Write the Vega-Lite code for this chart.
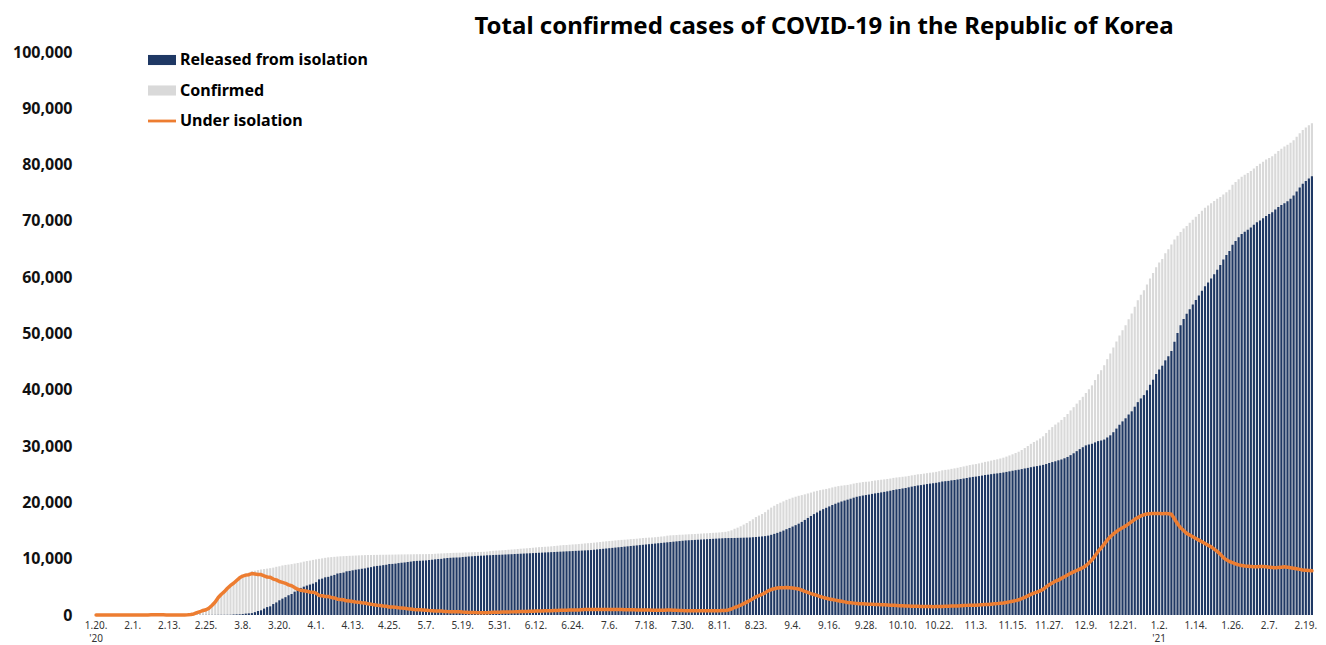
{
"$schema":"https://vega.github.io/schema/vega-lite/v6.json",
"width":1218,"height":563,
"autosize":{"type":"none"},
"padding":{"left":95,"top":52,"right":13,"bottom":30},
"background":"white",
"config":{"view":{"stroke":null},"font":"Noto Sans"},
"title":{"text":"Total confirmed cases of COVID-19 in the Republic of Korea","font":"Noto Sans","fontSize":24,"fontWeight":"bold","color":"#000000","anchor":"middle","dx":120,"offset":5},
"data":{"values":[
{"d":"2020-01-20","c":1,"r":0,"u":1},{"d":"2020-01-21","c":1,"r":0,"u":1},{"d":"2020-01-22","c":1,"r":0,"u":1},{"d":"2020-01-23","c":1,"r":0,"u":1},{"d":"2020-01-24","c":2,"r":0,"u":2},{"d":"2020-01-25","c":2,"r":0,"u":2},{"d":"2020-01-26","c":3,"r":0,"u":3},{"d":"2020-01-27","c":4,"r":0,"u":4},{"d":"2020-01-28","c":4,"r":0,"u":4},{"d":"2020-01-29","c":4,"r":0,"u":4},{"d":"2020-01-30","c":6,"r":0,"u":6},{"d":"2020-01-31","c":11,"r":0,"u":11},
{"d":"2020-02-01","c":12,"r":0,"u":12},{"d":"2020-02-02","c":15,"r":0,"u":15},{"d":"2020-02-03","c":15,"r":0,"u":15},{"d":"2020-02-04","c":16,"r":0,"u":16},{"d":"2020-02-05","c":19,"r":1,"u":18},{"d":"2020-02-06","c":23,"r":1,"u":22},{"d":"2020-02-07","c":24,"r":1,"u":23},{"d":"2020-02-08","c":24,"r":1,"u":23},{"d":"2020-02-09","c":27,"r":3,"u":24},{"d":"2020-02-10","c":27,"r":3,"u":24},{"d":"2020-02-11","c":28,"r":4,"u":24},{"d":"2020-02-12","c":28,"r":7,"u":21},{"d":"2020-02-13","c":28,"r":7,"u":21},{"d":"2020-02-14","c":28,"r":7,"u":21},{"d":"2020-02-15","c":28,"r":9,"u":19},{"d":"2020-02-16","c":29,"r":9,"u":20},{"d":"2020-02-17","c":30,"r":10,"u":20},{"d":"2020-02-18","c":31,"r":12,"u":19},{"d":"2020-02-19","c":51,"r":12,"u":39},{"d":"2020-02-20","c":104,"r":16,"u":87},{"d":"2020-02-21","c":204,"r":16,"u":186},{"d":"2020-02-22","c":433,"r":16,"u":415},{"d":"2020-02-23","c":602,"r":18,"u":578},{"d":"2020-02-24","c":833,"r":18,"u":807},{"d":"2020-02-25","c":977,"r":22,"u":945},{"d":"2020-02-26","c":1261,"r":22,"u":1227},{"d":"2020-02-27","c":1766,"r":22,"u":1731},{"d":"2020-02-28","c":2337,"r":22,"u":2299},{"d":"2020-02-29","c":3150,"r":27,"u":3106},
{"d":"2020-03-01","c":3736,"r":30,"u":3688},{"d":"2020-03-02","c":4212,"r":31,"u":4153},{"d":"2020-03-03","c":4812,"r":34,"u":4746},{"d":"2020-03-04","c":5328,"r":41,"u":5252},{"d":"2020-03-05","c":5766,"r":88,"u":5636},{"d":"2020-03-06","c":6284,"r":108,"u":6132},{"d":"2020-03-07","c":6767,"r":118,"u":6599},{"d":"2020-03-08","c":7134,"r":166,"u":6917},{"d":"2020-03-09","c":7382,"r":247,"u":7081},{"d":"2020-03-10","c":7513,"r":288,"u":7165},{"d":"2020-03-11","c":7755,"r":333,"u":7356},{"d":"2020-03-12","c":7869,"r":510,"u":7293},{"d":"2020-03-13","c":7979,"r":714,"u":7193},{"d":"2020-03-14","c":8086,"r":834,"u":7177},{"d":"2020-03-15","c":8162,"r":1137,"u":6950},{"d":"2020-03-16","c":8236,"r":1407,"u":6748},{"d":"2020-03-17","c":8320,"r":1540,"u":6696},{"d":"2020-03-18","c":8413,"r":1947,"u":6375},{"d":"2020-03-19","c":8565,"r":2233,"u":6241},{"d":"2020-03-20","c":8652,"r":2612,"u":5946},{"d":"2020-03-21","c":8799,"r":2909,"u":5788},{"d":"2020-03-22","c":8897,"r":3166,"u":5627},{"d":"2020-03-23","c":8961,"r":3507,"u":5343},{"d":"2020-03-24","c":9037,"r":3730,"u":5187},{"d":"2020-03-25","c":9137,"r":4144,"u":4867},{"d":"2020-03-26","c":9241,"r":4528,"u":4582},{"d":"2020-03-27","c":9332,"r":4811,"u":4382},{"d":"2020-03-28","c":9478,"r":5033,"u":4301},{"d":"2020-03-29","c":9583,"r":5228,"u":4203},{"d":"2020-03-30","c":9661,"r":5408,"u":4095},{"d":"2020-03-31","c":9786,"r":5567,"u":4057},
{"d":"2020-04-01","c":9887,"r":5828,"u":3894},{"d":"2020-04-02","c":9976,"r":6325,"u":3482},{"d":"2020-04-03","c":10062,"r":6463,"u":3425},{"d":"2020-04-04","c":10156,"r":6694,"u":3285},{"d":"2020-04-05","c":10237,"r":6776,"u":3278},{"d":"2020-04-06","c":10284,"r":6973,"u":3125},{"d":"2020-04-07","c":10331,"r":7117,"u":3022},{"d":"2020-04-08","c":10384,"r":7368,"u":2816},{"d":"2020-04-09","c":10423,"r":7447,"u":2772},{"d":"2020-04-10","c":10450,"r":7534,"u":2708},{"d":"2020-04-11","c":10480,"r":7757,"u":2512},{"d":"2020-04-12","c":10512,"r":7829,"u":2469},{"d":"2020-04-13","c":10537,"r":7937,"u":2383},{"d":"2020-04-14","c":10564,"r":8042,"u":2300},{"d":"2020-04-15","c":10591,"r":8114,"u":2252},{"d":"2020-04-16","c":10613,"r":8213,"u":2171},{"d":"2020-04-17","c":10635,"r":8277,"u":2128},{"d":"2020-04-18","c":10653,"r":8411,"u":2010},{"d":"2020-04-19","c":10661,"r":8501,"u":1926},{"d":"2020-04-20","c":10674,"r":8635,"u":1803},{"d":"2020-04-21","c":10683,"r":8717,"u":1729},{"d":"2020-04-22","c":10694,"r":8764,"u":1692},{"d":"2020-04-23","c":10702,"r":8854,"u":1608},{"d":"2020-04-24","c":10708,"r":8922,"u":1546},{"d":"2020-04-25","c":10718,"r":9059,"u":1419},{"d":"2020-04-26","c":10728,"r":9072,"u":1414},{"d":"2020-04-27","c":10738,"r":9123,"u":1372},{"d":"2020-04-28","c":10752,"r":9217,"u":1291},{"d":"2020-04-29","c":10761,"r":9283,"u":1232},{"d":"2020-04-30","c":10765,"r":9333,"u":1185},
{"d":"2020-05-01","c":10774,"r":9419,"u":1107},{"d":"2020-05-02","c":10780,"r":9484,"u":1046},{"d":"2020-05-03","c":10793,"r":9568,"u":975},{"d":"2020-05-04","c":10801,"r":9610,"u":939},{"d":"2020-05-05","c":10804,"r":9632,"u":918},{"d":"2020-05-06","c":10806,"r":9664,"u":887},{"d":"2020-05-07","c":10810,"r":9695,"u":859},{"d":"2020-05-08","c":10822,"r":9762,"u":804},{"d":"2020-05-09","c":10840,"r":9821,"u":763},{"d":"2020-05-10","c":10874,"r":9888,"u":730},{"d":"2020-05-11","c":10909,"r":9938,"u":715},{"d":"2020-05-12","c":10936,"r":9970,"u":708},{"d":"2020-05-13","c":10962,"r":10066,"u":637},{"d":"2020-05-14","c":10991,"r":10127,"u":604},{"d":"2020-05-15","c":11018,"r":10162,"u":596},{"d":"2020-05-16","c":11037,"r":10194,"u":581},{"d":"2020-05-17","c":11050,"r":10213,"u":575},{"d":"2020-05-18","c":11065,"r":10226,"u":576},{"d":"2020-05-19","c":11078,"r":10295,"u":520},{"d":"2020-05-20","c":11110,"r":10340,"u":507},{"d":"2020-05-21","c":11122,"r":10400,"u":458},{"d":"2020-05-22","c":11142,"r":10422,"u":456},{"d":"2020-05-23","c":11165,"r":10467,"u":432},{"d":"2020-05-24","c":11190,"r":10506,"u":418},{"d":"2020-05-25","c":11206,"r":10531,"u":408},{"d":"2020-05-26","c":11225,"r":10551,"u":405},{"d":"2020-05-27","c":11265,"r":10611,"u":385},{"d":"2020-05-28","c":11344,"r":10618,"u":457},{"d":"2020-05-29","c":11402,"r":10655,"u":478},{"d":"2020-05-30","c":11441,"r":10677,"u":495},{"d":"2020-05-31","c":11468,"r":10695,"u":503},
{"d":"2020-06-01","c":11503,"r":10718,"u":513},{"d":"2020-06-02","c":11541,"r":10746,"u":523},{"d":"2020-06-03","c":11590,"r":10774,"u":544},{"d":"2020-06-04","c":11629,"r":10802,"u":555},{"d":"2020-06-05","c":11668,"r":10830,"u":565},{"d":"2020-06-06","c":11719,"r":10858,"u":588},{"d":"2020-06-07","c":11776,"r":10886,"u":617},{"d":"2020-06-08","c":11814,"r":10914,"u":627},{"d":"2020-06-09","c":11852,"r":10942,"u":634},{"d":"2020-06-10","c":11902,"r":10970,"u":656},{"d":"2020-06-11","c":11947,"r":10998,"u":673},{"d":"2020-06-12","c":12003,"r":11026,"u":700},{"d":"2020-06-13","c":12051,"r":11054,"u":720},{"d":"2020-06-14","c":12085,"r":11082,"u":726},{"d":"2020-06-15","c":12121,"r":11110,"u":734},{"d":"2020-06-16","c":12155,"r":11138,"u":739},{"d":"2020-06-17","c":12198,"r":11166,"u":753},{"d":"2020-06-18","c":12257,"r":11194,"u":784},{"d":"2020-06-19","c":12306,"r":11222,"u":804},{"d":"2020-06-20","c":12373,"r":11250,"u":843},{"d":"2020-06-21","c":12421,"r":11278,"u":863},{"d":"2020-06-22","c":12438,"r":11306,"u":852},{"d":"2020-06-23","c":12484,"r":11334,"u":869},{"d":"2020-06-24","c":12535,"r":11362,"u":892},{"d":"2020-06-25","c":12563,"r":11390,"u":891},{"d":"2020-06-26","c":12602,"r":11418,"u":902},{"d":"2020-06-27","c":12653,"r":11446,"u":925},{"d":"2020-06-28","c":12715,"r":11474,"u":959},{"d":"2020-06-29","c":12757,"r":11502,"u":973},{"d":"2020-06-30","c":12800,"r":11537,"u":981},
{"d":"2020-07-01","c":12850,"r":11592,"u":975},{"d":"2020-07-02","c":12904,"r":11647,"u":974},{"d":"2020-07-03","c":12967,"r":11702,"u":982},{"d":"2020-07-04","c":13030,"r":11757,"u":989},{"d":"2020-07-05","c":13091,"r":11812,"u":995},{"d":"2020-07-06","c":13137,"r":11867,"u":986},{"d":"2020-07-07","c":13181,"r":11922,"u":974},{"d":"2020-07-08","c":13244,"r":11977,"u":982},{"d":"2020-07-09","c":13293,"r":12032,"u":974},{"d":"2020-07-10","c":13338,"r":12087,"u":964},{"d":"2020-07-11","c":13373,"r":12142,"u":943},{"d":"2020-07-12","c":13417,"r":12197,"u":931},{"d":"2020-07-13","c":13479,"r":12252,"u":938},{"d":"2020-07-14","c":13512,"r":12307,"u":916},{"d":"2020-07-15","c":13551,"r":12362,"u":900},{"d":"2020-07-16","c":13612,"r":12417,"u":902},{"d":"2020-07-17","c":13672,"r":12472,"u":907},{"d":"2020-07-18","c":13711,"r":12527,"u":890},{"d":"2020-07-19","c":13745,"r":12582,"u":868},{"d":"2020-07-20","c":13771,"r":12637,"u":838},{"d":"2020-07-21","c":13816,"r":12692,"u":828},{"d":"2020-07-22","c":13879,"r":12747,"u":836},{"d":"2020-07-23","c":13938,"r":12802,"u":839},{"d":"2020-07-24","c":13979,"r":12857,"u":824},{"d":"2020-07-25","c":14092,"r":12912,"u":882},{"d":"2020-07-26","c":14150,"r":12967,"u":885},{"d":"2020-07-27","c":14175,"r":13022,"u":854},{"d":"2020-07-28","c":14203,"r":13077,"u":827},{"d":"2020-07-29","c":14251,"r":13132,"u":819},{"d":"2020-07-30","c":14269,"r":13187,"u":782},{"d":"2020-07-31","c":14305,"r":13242,"u":762},
{"d":"2020-08-01","c":14336,"r":13274,"u":761},{"d":"2020-08-02","c":14366,"r":13306,"u":759},{"d":"2020-08-03","c":14389,"r":13338,"u":750},{"d":"2020-08-04","c":14423,"r":13370,"u":752},{"d":"2020-08-05","c":14456,"r":13402,"u":752},{"d":"2020-08-06","c":14499,"r":13434,"u":763},{"d":"2020-08-07","c":14519,"r":13466,"u":751},{"d":"2020-08-08","c":14562,"r":13498,"u":760},{"d":"2020-08-09","c":14598,"r":13530,"u":764},{"d":"2020-08-10","c":14626,"r":13562,"u":760},{"d":"2020-08-11","c":14660,"r":13594,"u":761},{"d":"2020-08-12","c":14714,"r":13626,"u":783},{"d":"2020-08-13","c":14770,"r":13658,"u":807},{"d":"2020-08-14","c":14873,"r":13668,"u":900},{"d":"2020-08-15","c":15039,"r":13674,"u":1060},{"d":"2020-08-16","c":15318,"r":13683,"u":1330},{"d":"2020-08-17","c":15515,"r":13700,"u":1510},{"d":"2020-08-18","c":15761,"r":13715,"u":1740},{"d":"2020-08-19","c":16058,"r":13732,"u":2020},{"d":"2020-08-20","c":16346,"r":13749,"u":2290},{"d":"2020-08-21","c":16670,"r":13771,"u":2590},{"d":"2020-08-22","c":17002,"r":13813,"u":2880},{"d":"2020-08-23","c":17399,"r":13850,"u":3240},{"d":"2020-08-24","c":17665,"r":13906,"u":3450},{"d":"2020-08-25","c":17945,"r":13955,"u":3680},{"d":"2020-08-26","c":18265,"r":14013,"u":3940},{"d":"2020-08-27","c":18706,"r":14103,"u":4290},{"d":"2020-08-28","c":19077,"r":14241,"u":4520},{"d":"2020-08-29","c":19400,"r":14409,"u":4670},{"d":"2020-08-30","c":19699,"r":14586,"u":4790},{"d":"2020-08-31","c":19947,"r":14783,"u":4840},
{"d":"2020-09-01","c":20182,"r":14996,"u":4860},{"d":"2020-09-02","c":20449,"r":15240,"u":4880},{"d":"2020-09-03","c":20644,"r":15463,"u":4850},{"d":"2020-09-04","c":20842,"r":15711,"u":4800},{"d":"2020-09-05","c":21010,"r":15956,"u":4720},{"d":"2020-09-06","c":21177,"r":16221,"u":4620},{"d":"2020-09-07","c":21296,"r":16535,"u":4420},{"d":"2020-09-08","c":21432,"r":16888,"u":4200},{"d":"2020-09-09","c":21588,"r":17238,"u":4000},{"d":"2020-09-10","c":21743,"r":17588,"u":3800},{"d":"2020-09-11","c":21919,"r":17921,"u":3640},{"d":"2020-09-12","c":22055,"r":18214,"u":3480},{"d":"2020-09-13","c":22176,"r":18533,"u":3280},{"d":"2020-09-14","c":22285,"r":18798,"u":3120},{"d":"2020-09-15","c":22391,"r":19039,"u":2980},{"d":"2020-09-16","c":22504,"r":19287,"u":2840},{"d":"2020-09-17","c":22657,"r":19539,"u":2740},{"d":"2020-09-18","c":22783,"r":19762,"u":2640},{"d":"2020-09-19","c":22893,"r":19969,"u":2540},{"d":"2020-09-20","c":22975,"r":20160,"u":2430},{"d":"2020-09-21","c":23045,"r":20327,"u":2330},{"d":"2020-09-22","c":23106,"r":20488,"u":2230},{"d":"2020-09-23","c":23216,"r":20653,"u":2170},{"d":"2020-09-24","c":23341,"r":20836,"u":2110},{"d":"2020-09-25","c":23455,"r":20998,"u":2060},{"d":"2020-09-26","c":23516,"r":21105,"u":2010},{"d":"2020-09-27","c":23611,"r":21219,"u":1990},{"d":"2020-09-28","c":23661,"r":21305,"u":1950},{"d":"2020-09-29","c":23699,"r":21392,"u":1900},{"d":"2020-09-30","c":23812,"r":21509,"u":1890},
{"d":"2020-10-01","c":23889,"r":21604,"u":1870},{"d":"2020-10-02","c":23952,"r":21686,"u":1850},{"d":"2020-10-03","c":24027,"r":21777,"u":1830},{"d":"2020-10-04","c":24091,"r":21869,"u":1800},{"d":"2020-10-05","c":24164,"r":21969,"u":1770},{"d":"2020-10-06","c":24239,"r":22071,"u":1740},{"d":"2020-10-07","c":24353,"r":22205,"u":1720},{"d":"2020-10-08","c":24422,"r":22302,"u":1690},{"d":"2020-10-09","c":24476,"r":22384,"u":1660},{"d":"2020-10-10","c":24548,"r":22475,"u":1640},{"d":"2020-10-11","c":24606,"r":22562,"u":1610},{"d":"2020-10-12","c":24703,"r":22679,"u":1590},{"d":"2020-10-13","c":24805,"r":22801,"u":1570},{"d":"2020-10-14","c":24889,"r":22900,"u":1550},{"d":"2020-10-15","c":24988,"r":23009,"u":1540},{"d":"2020-10-16","c":25035,"r":23074,"u":1520},{"d":"2020-10-17","c":25108,"r":23154,"u":1510},{"d":"2020-10-18","c":25199,"r":23255,"u":1500},{"d":"2020-10-19","c":25275,"r":23339,"u":1490},{"d":"2020-10-20","c":25333,"r":23406,"u":1480},{"d":"2020-10-21","c":25424,"r":23481,"u":1490},{"d":"2020-10-22","c":25543,"r":23578,"u":1510},{"d":"2020-10-23","c":25698,"r":23711,"u":1530},{"d":"2020-10-24","c":25775,"r":23768,"u":1550},{"d":"2020-10-25","c":25836,"r":23819,"u":1560},{"d":"2020-10-26","c":25955,"r":23918,"u":1580},{"d":"2020-10-27","c":26043,"r":23983,"u":1600},{"d":"2020-10-28","c":26146,"r":24065,"u":1620},{"d":"2020-10-29","c":26271,"r":24158,"u":1650},{"d":"2020-10-30","c":26385,"r":24241,"u":1680},{"d":"2020-10-31","c":26511,"r":24337,"u":1710},
{"d":"2020-11-01","c":26635,"r":24439,"u":1730},{"d":"2020-11-02","c":26732,"r":24524,"u":1740},{"d":"2020-11-03","c":26807,"r":24585,"u":1750},{"d":"2020-11-04","c":26925,"r":24671,"u":1780},{"d":"2020-11-05","c":27050,"r":24764,"u":1810},{"d":"2020-11-06","c":27195,"r":24868,"u":1850},{"d":"2020-11-07","c":27284,"r":24926,"u":1880},{"d":"2020-11-08","c":27427,"r":25019,"u":1930},{"d":"2020-11-09","c":27553,"r":25093,"u":1980},{"d":"2020-11-10","c":27653,"r":25153,"u":2020},{"d":"2020-11-11","c":27799,"r":25235,"u":2080},{"d":"2020-11-12","c":27942,"r":25315,"u":2140},{"d":"2020-11-13","c":28133,"r":25415,"u":2230},{"d":"2020-11-14","c":28338,"r":25516,"u":2330},{"d":"2020-11-15","c":28546,"r":25624,"u":2430},{"d":"2020-11-16","c":28769,"r":25716,"u":2560},{"d":"2020-11-17","c":28998,"r":25804,"u":2700},{"d":"2020-11-18","c":29311,"r":25917,"u":2900},{"d":"2020-11-19","c":29654,"r":26028,"u":3130},{"d":"2020-11-20","c":30017,"r":26129,"u":3390},{"d":"2020-11-21","c":30403,"r":26252,"u":3650},{"d":"2020-11-22","c":30733,"r":26350,"u":3880},{"d":"2020-11-23","c":31004,"r":26449,"u":4050},{"d":"2020-11-24","c":31353,"r":26543,"u":4300},{"d":"2020-11-25","c":31735,"r":26662,"u":4560},{"d":"2020-11-26","c":32318,"r":26813,"u":4990},{"d":"2020-11-27","c":32887,"r":27001,"u":5370},{"d":"2020-11-28","c":33375,"r":27163,"u":5690},{"d":"2020-11-29","c":33824,"r":27301,"u":6000},{"d":"2020-11-30","c":34201,"r":27475,"u":6200},
{"d":"2020-12-01","c":34652,"r":27626,"u":6500},{"d":"2020-12-02","c":35163,"r":27837,"u":6800},{"d":"2020-12-03","c":35703,"r":28074,"u":7100},{"d":"2020-12-04","c":36332,"r":28396,"u":7400},{"d":"2020-12-05","c":36915,"r":28725,"u":7650},{"d":"2020-12-06","c":37546,"r":29101,"u":7900},{"d":"2020-12-07","c":38161,"r":29462,"u":8150},{"d":"2020-12-08","c":38755,"r":29803,"u":8400},{"d":"2020-12-09","c":39432,"r":30126,"u":8750},{"d":"2020-12-10","c":40098,"r":30284,"u":9250},{"d":"2020-12-11","c":40786,"r":30414,"u":9800},{"d":"2020-12-12","c":41736,"r":30658,"u":10500},{"d":"2020-12-13","c":42766,"r":30886,"u":11300},{"d":"2020-12-14","c":43484,"r":30997,"u":11900},{"d":"2020-12-15","c":44364,"r":31164,"u":12600},{"d":"2020-12-16","c":45442,"r":31530,"u":13300},{"d":"2020-12-17","c":46453,"r":31919,"u":13900},{"d":"2020-12-18","c":47515,"r":32470,"u":14400},{"d":"2020-12-19","c":48570,"r":33111,"u":14800},{"d":"2020-12-20","c":49665,"r":33791,"u":15200},{"d":"2020-12-21","c":50591,"r":34393,"u":15500},{"d":"2020-12-22","c":51460,"r":34938,"u":15800},{"d":"2020-12-23","c":52550,"r":35611,"u":16200},{"d":"2020-12-24","c":53533,"r":36177,"u":16600},{"d":"2020-12-25","c":54770,"r":36997,"u":17000},{"d":"2020-12-26","c":55902,"r":37809,"u":17300},{"d":"2020-12-27","c":56872,"r":38464,"u":17600},{"d":"2020-12-28","c":57680,"r":39061,"u":17800},{"d":"2020-12-29","c":58725,"r":39916,"u":17950},{"d":"2020-12-30","c":59773,"r":40894,"u":18000},{"d":"2020-12-31","c":60740,"r":41790,"u":18050},
{"d":"2021-01-01","c":61769,"r":42802,"u":18050},{"d":"2021-01-02","c":62593,"r":43601,"u":18050},{"d":"2021-01-03","c":63244,"r":44282,"u":18000},{"d":"2021-01-04","c":64264,"r":45233,"u":18050},{"d":"2021-01-05","c":64979,"r":45972,"u":18000},{"d":"2021-01-06","c":65818,"r":46891,"u":17900},{"d":"2021-01-07","c":66686,"r":48540,"u":17100},{"d":"2021-01-08","c":67358,"r":50093,"u":16200},{"d":"2021-01-09","c":68039,"r":51458,"u":15500},{"d":"2021-01-10","c":68664,"r":52564,"u":15000},{"d":"2021-01-11","c":69114,"r":53489,"u":14500},{"d":"2021-01-12","c":69651,"r":54311,"u":14200},{"d":"2021-01-13","c":70212,"r":55147,"u":13900},{"d":"2021-01-14","c":70728,"r":55943,"u":13600},{"d":"2021-01-15","c":71241,"r":56746,"u":13300},{"d":"2021-01-16","c":71820,"r":57603,"u":13000},{"d":"2021-01-17","c":72340,"r":58404,"u":12700},{"d":"2021-01-18","c":72729,"r":59080,"u":12400},{"d":"2021-01-19","c":73115,"r":59751,"u":12100},{"d":"2021-01-20","c":73518,"r":60535,"u":11700},{"d":"2021-01-21","c":73918,"r":61318,"u":11300},{"d":"2021-01-22","c":74262,"r":62148,"u":10800},{"d":"2021-01-23","c":74692,"r":63164,"u":10200},{"d":"2021-01-24","c":75084,"r":63947,"u":9800},{"d":"2021-01-25","c":75521,"r":64672,"u":9500},{"d":"2021-01-26","c":76429,"r":65769,"u":9300},{"d":"2021-01-27","c":76926,"r":66448,"u":9100},{"d":"2021-01-28","c":77395,"r":67109,"u":8900},{"d":"2021-01-29","c":77850,"r":67651,"u":8800},{"d":"2021-01-30","c":78205,"r":68091,"u":8700},{"d":"2021-01-31","c":78508,"r":68438,"u":8650},
{"d":"2021-02-01","c":78844,"r":68819,"u":8600},{"d":"2021-02-02","c":79311,"r":69320,"u":8550},{"d":"2021-02-03","c":79762,"r":69764,"u":8550},{"d":"2021-02-04","c":80131,"r":70072,"u":8600},{"d":"2021-02-05","c":80524,"r":70460,"u":8600},{"d":"2021-02-06","c":80896,"r":70875,"u":8550},{"d":"2021-02-07","c":81185,"r":71211,"u":8500},{"d":"2021-02-08","c":81487,"r":71555,"u":8450},{"d":"2021-02-09","c":81930,"r":72044,"u":8400},{"d":"2021-02-10","c":82434,"r":72488,"u":8450},{"d":"2021-02-11","c":82837,"r":72830,"u":8500},{"d":"2021-02-12","c":83199,"r":73136,"u":8550},{"d":"2021-02-13","c":83525,"r":73503,"u":8500},{"d":"2021-02-14","c":83869,"r":73942,"u":8400},{"d":"2021-02-15","c":84325,"r":74491,"u":8300},{"d":"2021-02-16","c":84946,"r":75208,"u":8200},{"d":"2021-02-17","c":85567,"r":75923,"u":8100},{"d":"2021-02-18","c":86128,"r":76578,"u":8000},{"d":"2021-02-19","c":86574,"r":77071,"u":7950},{"d":"2021-02-20","c":86992,"r":77535,"u":7900},{"d":"2021-02-21","c":87324,"r":77912,"u":7850}
]},
"encoding":{
"x":{"field":"d","type":"ordinal","sort":null,"title":null,
 "scale":{"paddingInner":0.3,"paddingOuter":0},
 "axis":{"values":["2020-01-20","2020-02-01","2020-02-13","2020-02-25","2020-03-08","2020-03-20","2020-04-01","2020-04-13","2020-04-25","2020-05-07","2020-05-19","2020-05-31","2020-06-12","2020-06-24","2020-07-06","2020-07-18","2020-07-30","2020-08-11","2020-08-23","2020-09-04","2020-09-16","2020-09-28","2020-10-10","2020-10-22","2020-11-03","2020-11-15","2020-11-27","2020-12-09","2020-12-21","2021-01-02","2021-01-14","2021-01-26","2021-02-07","2021-02-19"],
  "labelExpr":"datum.value == '2020-01-20' ? ['1.20.', \"'20\"] : datum.value == '2021-01-02' ? ['1.2.', \"'21\"] : utcFormat(toDate(datum.value), '%-m.%-d.')",
  "labelAngle":0,"labelFontSize":10,"labelColor":"#333333","labelPadding":5,"labelLineHeight":13,"labelOverlap":false,"labelBound":false,"labelFlush":false,"ticks":false,"domain":false,"grid":false}}
},
"layer":[
{"mark":{"type":"bar"},
 "encoding":{
  "y":{"field":"c","type":"quantitative","title":null,"scale":{"domain":[0,100000],"nice":false},
   "axis":{"values":[0,10000,20000,30000,40000,50000,60000,70000,80000,90000,100000],"format":",d","labelFontSize":16,"labelFontWeight":"bold","labelColor":"#111111","labelPadding":23,"ticks":false,"domain":false,"grid":false}},
  "color":{"datum":"Confirmed","type":"nominal",
   "scale":{"domain":["Released from isolation","Confirmed","Under isolation"],"range":["#1F3864","#D9D9D9","#ED7D31"]},
   "legend":{"orient":"none","legendX":53,"legendY":-6,"title":null,"padding":0,"symbolSize":784,"labelFontSize":16,"labelFontWeight":"bold","labelColor":"#000000","labelFont":"Noto Sans","labelOffset":4,"labelLimit":400,"rowPadding":8.5,
    "encode":{"symbols":{"update":{
     "shape":{"signal":"datum.value === 'Under isolation' ? 'M-1,-0.1H1V0.1H-1Z' : 'M-1,-0.36H1V0.36H-1Z'"},
     "fill":{"signal":"datum.value === 'Under isolation' ? '#ED7D31' : datum.value === 'Confirmed' ? '#D9D9D9' : '#1F3864'"},
     "stroke":{"value":"transparent"},"strokeWidth":{"value":0},"opacity":{"value":1},"fillOpacity":{"value":1}}}}}}
 }},
{"mark":{"type":"bar"},
 "encoding":{
  "y":{"field":"r","type":"quantitative","title":null},
  "color":{"datum":"Released from isolation","type":"nominal"}
 }},
{"mark":{"type":"line","strokeWidth":3.5,"strokeJoin":"round","strokeCap":"round"},
 "encoding":{
  "y":{"field":"u","type":"quantitative","title":null},
  "color":{"datum":"Under isolation","type":"nominal"}
 }}
]
}
